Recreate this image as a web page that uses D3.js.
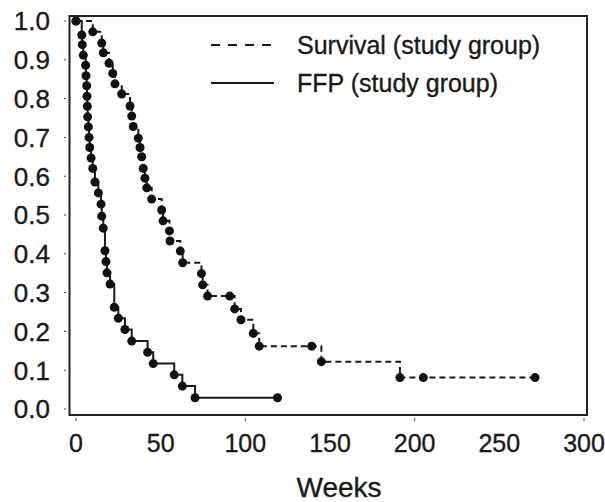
<!DOCTYPE html>
<html>
<head>
<meta charset="utf-8">
<script src="https://cdn.jsdelivr.net/npm/d3@7"></script>
<style>
  body { margin: 0; background: #fff; }
  svg text { font-family: "Liberation Sans", Arial, Helvetica, sans-serif; fill: #1a1a1a; stroke: #1a1a1a; stroke-width: 0.35px; }
</style>
</head>
<body>
<svg id="chart" width="605" height="502"></svg>
<script>
// Kaplan-Meier estimates (weeks, proportion)
var survivalWeeks = [0, 9.9, 15.2, 16.1, 19.5, 21.7, 23.0, 27.0, 31.9, 32.9, 33.8, 36.8, 37.8, 38.8, 39.7, 40.7, 41.8, 44.7, 50.6, 51.4, 55.2, 55.5, 61.6, 63.0, 74.1, 74.8, 77.7, 90.8, 93.7, 97.4, 104.7, 108.2, 139.2, 144.9, 191.3, 205.1, 271.1];
var survivalValues = [1.0, 0.972, 0.943, 0.918, 0.891, 0.865, 0.838, 0.812, 0.781, 0.755, 0.728, 0.698, 0.674, 0.650, 0.620, 0.595, 0.570, 0.541, 0.513, 0.485, 0.459, 0.433, 0.407, 0.377, 0.349, 0.320, 0.291, 0.291, 0.258, 0.230, 0.195, 0.162, 0.162, 0.122, 0.081, 0.081, 0.081];

var ffpWeeks = [0, 3.4, 3.7, 4.3, 5.7, 5.9, 6.3, 6.5, 6.7, 6.9, 7.3, 7.7, 8.1, 8.9, 9.9, 11.2, 13.2, 14.8, 15.2, 16.1, 17.1, 17.7, 18.3, 20.1, 22.6, 25.0, 28.9, 32.9, 42.3, 45.6, 58.0, 62.8, 70.3, 119];
var ffpValues = [1.0, 0.964, 0.939, 0.912, 0.886, 0.859, 0.833, 0.806, 0.780, 0.753, 0.727, 0.700, 0.674, 0.647, 0.620, 0.585, 0.557, 0.528, 0.497, 0.466, 0.408, 0.380, 0.351, 0.322, 0.262, 0.234, 0.205, 0.175, 0.146, 0.117, 0.088, 0.059, 0.029, 0.029];

var xTickLabels = [0, 50, 100, 150, 200, 250, 300];
var xTickMarks = [0, 100, 200, 300];
var yTickLabels = [0.0, 0.1, 0.2, 0.3, 0.4, 0.5, 0.6, 0.7, 0.8, 0.9, 1.0];

var legendNames = ["Survival (study group)", "FFP (study group)"];

function makeSeries(weeks, values) {
  return weeks.map(function(w, i) {
    return { week: w, value: values[i] };
  });
}

function renderChart() {
  var svg = d3.select("#chart");

  var x = d3.scaleLinear().domain([0, 300]).range([76, 584]);
  var y = d3.scaleLinear().domain([0, 1]).range([409, 21]);

  // plot frame
  svg.append("rect")
    .attr("x", 69.5)
    .attr("y", 16)
    .attr("width", 517.5)
    .attr("height", 399)
    .attr("fill", "none")
    .attr("stroke", "#222")
    .attr("stroke-width", 2);

  // y axis: small ticks outside frame plus labels
  svg.append("g")
    .selectAll("line")
    .data(yTickLabels)
    .enter()
    .append("line")
    .attr("x1", 64)
    .attr("x2", 66)
    .attr("y1", function(d) { return y(d); })
    .attr("y2", function(d) { return y(d); })
    .attr("stroke", "#444")
    .attr("stroke-width", 1);

  svg.append("g")
    .selectAll("text")
    .data(yTickLabels)
    .enter()
    .append("text")
    .attr("x", 50)
    .attr("y", function(d) { return y(d); })
    .attr("dy", "0.36em")
    .attr("text-anchor", "end")
    .style("font-size", "26px")
    .text(function(d) { return d3.format(".1f")(d); });

  // x axis
  svg.append("g")
    .selectAll("line")
    .data(xTickMarks)
    .enter()
    .append("line")
    .attr("x1", function(d) { return x(d); })
    .attr("x2", function(d) { return x(d); })
    .attr("y1", 418)
    .attr("y2", 421)
    .attr("stroke", "#444")
    .attr("stroke-width", 1);

  svg.append("g")
    .selectAll("text")
    .data(xTickLabels)
    .enter()
    .append("text")
    .attr("x", function(d) { return x(d); })
    .attr("y", 443)
    .attr("dy", "0.36em")
    .attr("text-anchor", "middle")
    .style("font-size", "25px")
    .text(function(d) { return d; });

  svg.append("text")
    .attr("x", 339)
    .attr("y", 487)
    .attr("dy", "0.36em")
    .attr("text-anchor", "middle")
    .style("font-size", "28px")
    .text("Weeks");

  var line = d3.line()
    .x(function(d) { return x(d.week); })
    .y(function(d) { return y(d.value); })
    .curve(d3.curveStepAfter);

  var series = [
    { name: legendNames[0], data: makeSeries(survivalWeeks, survivalValues), dash: "6,4" },
    { name: legendNames[1], data: makeSeries(ffpWeeks, ffpValues), dash: null }
  ];

  series.forEach(function(s) {
    svg.append("path")
      .datum(s.data)
      .attr("d", line)
      .attr("fill", "none")
      .attr("stroke", "#1a1a1a")
      .attr("stroke-width", 2)
      .attr("stroke-dasharray", s.dash);

    svg.append("g")
      .selectAll("circle")
      .data(s.data)
      .enter()
      .append("circle")
      .attr("cx", function(d) { return x(d.week); })
      .attr("cy", function(d) { return y(d.value); })
      .attr("r", 4.5)
      .attr("fill", "#111");
  });

  // legend
  var legend = svg.append("g")
    .selectAll("g")
    .data(series)
    .enter()
    .append("g")
    .attr("transform", function(d, i) {
      return "translate(211," + (45 + i * 38) + ")";
    });

  legend.append("line")
    .attr("x1", 0)
    .attr("x2", 63)
    .attr("stroke", "#1a1a1a")
    .attr("stroke-width", 2)
    .attr("stroke-dasharray", function(d) { return d.dash ? "9,8" : null; });

  legend.append("text")
    .attr("x", 86)
    .attr("dy", "0.36em")
    .style("font-size", "25px")
    .text(function(d) { return d.name; });
}

renderChart();
</script>
</body>
</html>
